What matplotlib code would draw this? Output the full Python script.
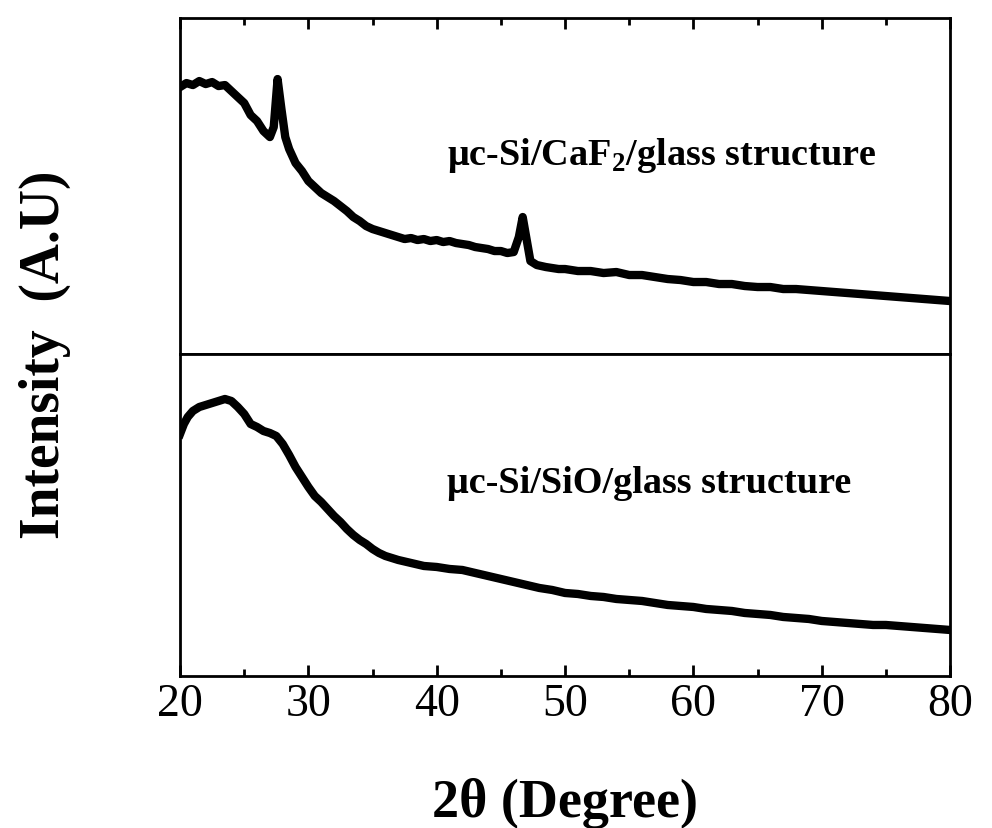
#
# XRD patterns of the two uc-Si structures (stacked panels)
#
import numpy as np
import matplotlib.pyplot as plt
from matplotlib.ticker import MultipleLocator, NullLocator

# uc-Si/CaF2/glass (arbitrary units)
two_theta_caf2 = [20.0, 20.5, 21.0, 21.5, 22.0, 22.5, 23.0, 23.5, 24.0, 24.5,
                  25.0, 25.5, 26.0, 26.5, 27.0, 27.3, 27.6, 27.9, 28.2, 28.5,
                  29.0, 29.5, 30.0, 30.5, 31.0, 31.5, 32.0, 32.5, 33.0, 33.5,
                  34.0, 34.5, 35.0, 35.5, 36.0, 36.5, 37.0, 37.5, 38.0, 38.5,
                  39.0, 39.5, 40.0, 40.5, 41.0, 41.5, 42.0, 42.5, 43.0, 43.5,
                  44.0, 44.5, 45.0, 45.5, 46.0, 46.4, 46.7, 47.0, 47.3, 47.8,
                  48.5, 49.0, 49.5, 50.0, 51, 52, 53, 54, 55, 56, 57, 58, 59,
                  60, 61, 62, 63, 64, 65, 66, 67, 68, 69, 70, 71, 72, 73, 74,
                  75, 76, 77, 78, 79, 80]
pix_caf2 = [88, 84, 86, 82, 85, 83, 87, 86, 92, 98,
            104, 116, 122, 132, 138, 128, 80, 110, 138, 150,
            164, 172, 182, 188, 194, 198, 202, 207, 212, 218,
            222, 227, 230, 232, 234, 236, 238, 240, 239, 241,
            240, 242, 241, 243, 242, 244, 245, 246, 248, 249,
            250, 252, 252, 254, 253, 238, 218, 240, 262, 266,
            268, 269, 270, 270, 272, 272, 274, 273, 276, 276, 278, 280, 281,
            283, 283, 285, 285, 287, 288, 288, 290, 290, 291, 292, 293, 294, 295, 296,
            297, 298, 299, 300, 301, 302]

# uc-Si/SiO/glass
two_theta_sio = [20.0, 20.3, 20.6, 21.0, 21.5, 22.0, 22.5, 23.0, 23.5, 24.0,
                 24.5, 25.0, 25.5, 26.0, 26.5, 27.0, 27.5, 28.0, 28.5, 29.0,
                 29.5, 30.0, 30.5, 31.0, 31.5, 32.0, 32.5, 33.0, 33.5, 34.0,
                 34.5, 35.0, 35.5, 36.0, 37, 38, 39, 40, 41, 42, 43, 44, 45,
                 46, 47, 48, 49, 50, 51, 52, 53, 54, 55, 56, 57, 58, 59, 60,
                 61, 62, 63, 64, 65, 66, 67, 68, 69, 70, 71, 72, 73, 74, 75,
                 76, 77, 78, 79, 80]
pix_sio = [435, 425, 418, 412, 408, 406, 404, 402, 400, 402,
           408, 415, 425, 428, 432, 434, 437, 445, 456, 468,
           478, 488, 497, 503, 510, 517, 523, 530, 536, 541,
           545, 550, 554, 557, 561, 564, 567, 568, 570, 571, 574, 577, 580,
           583, 586, 589, 591, 594, 595, 597, 598, 600, 601, 602, 604, 606, 607, 608,
           610, 611, 612, 614, 615, 616, 618, 619, 620, 622, 623, 624, 625, 626, 626,
           627, 628, 629, 630, 631]

int_caf2 = 355 - np.array(pix_caf2)
int_sio = 677 - np.array(pix_sio)

labels = ["\u03bcc-Si/CaF$_\\mathbf{2}$/glass structure", "\u03bcc-Si/SiO/glass structure"]

plt.rcParams['font.family'] = ['Liberation Serif', 'DejaVu Serif']
plt.rcParams['mathtext.fontset'] = 'custom'
plt.rcParams['mathtext.rm'] = 'Liberation Serif'
plt.rcParams['mathtext.bf'] = 'Liberation Serif:bold'

fig = plt.figure(figsize=(9.92, 8.29), dpi=100)
gs = fig.add_gridspec(2, 1, height_ratios=[336, 322], hspace=0,
                      left=0.1815, right=0.9577, bottom=0.1834, top=0.977)
ax1 = fig.add_subplot(gs[0])
ax2 = fig.add_subplot(gs[1], sharex=ax1)

ax1.plot(two_theta_caf2, int_caf2, color='black', lw=6)
ax2.plot(two_theta_sio, int_sio, color='black', lw=6)
ax1.set_ylim(0, 336)
ax2.set_ylim(0, 322)
ax1.set_xlim(20, 80)

for ax in (ax1, ax2):
    for s in ax.spines.values():
        s.set_linewidth(2)
    ax.yaxis.set_major_locator(NullLocator())
    ax.xaxis.set_major_locator(MultipleLocator(10))
    ax.xaxis.set_minor_locator(MultipleLocator(5))
    ax.tick_params(axis='x', which='major', direction='in', length=8, width=2)
    ax.tick_params(axis='x', which='minor', direction='in', length=5, width=2)

ax1.tick_params(axis='x', which='both', top=True, bottom=False, labelbottom=False)
ax2.tick_params(axis='x', which='both', top=False, bottom=True, labelsize=33, pad=5)

ax1.text(0.347, 0.595, labels[0], transform=ax1.transAxes, fontsize=27.5,
         fontweight='bold', va='center')
ax2.text(0.347, 0.602, labels[1], transform=ax2.transAxes, fontsize=27.5,
         fontweight='bold', va='center')

ax2.set_xlabel("2\u03b8 (Degree)", fontsize=39, fontweight='bold', labelpad=37)
fig.text(0.045, 0.572, "Intensity  (A.U)", rotation=90, fontsize=40,
         fontweight='bold', va='center', ha='center')

fig.savefig("out.png", dpi=100)
